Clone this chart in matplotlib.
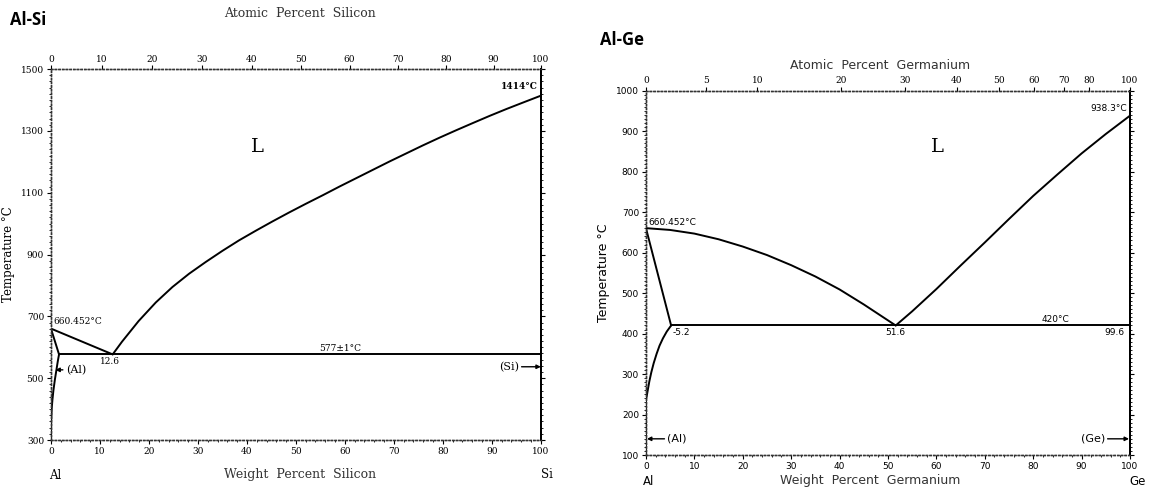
import matplotlib.pyplot as plt
import numpy as np
from matplotlib.ticker import MultipleLocator

# ---- Al-Si (weight percent Si, temperature in C) ----
alsi_liq_al_x = [0, 12.6]
alsi_liq_al_t = [660.452, 577]
alsi_liq_si_x = [12.6, 14.5, 17.9, 21.4, 24.8, 28.2, 31.6, 35.0, 38.4, 41.8, 45.2,
                 48.6, 52.0, 55.5, 58.9, 62.3, 65.7, 69.1, 72.5, 75.9, 79.3, 82.7,
                 86.2, 89.6, 93.0, 96.4, 100]
alsi_liq_si_t = [577, 618, 685, 745, 795, 838, 876, 912, 946, 977, 1007,
                 1036, 1064, 1092, 1120, 1147, 1174, 1201, 1227, 1253, 1278, 1302,
                 1326, 1349, 1371, 1392, 1414]
alsi_solidus_x = [0, 1.65]
alsi_solidus_t = [660.452, 577]
alsi_solvus_x = [1.65, 1.4, 1.1, 0.8, 0.5, 0.3, 0.15, 0.05, 0]
alsi_solvus_t = [577, 555, 525, 495, 460, 430, 400, 360, 300]
alsi_eut_x = [1.65, 100]
alsi_eut_t = [577, 577]
alsi_at_ticks = [0, 10, 20, 30, 40, 50, 60, 70, 80, 90, 100]
alsi_yticks = [300, 500, 700, 900, 1100, 1300, 1500]

# ---- Al-Ge (weight percent Ge, temperature in C) ----
alge_liq_al_x = [0, 5, 10, 15, 20, 25, 30, 35, 40, 45, 51.6]
alge_liq_al_t = [660.452, 656, 647, 633, 615, 594, 569, 541, 509, 472, 420]
alge_liq_ge_x = [51.6, 55, 60, 65, 70, 75, 80, 85, 90, 95, 100]
alge_liq_ge_t = [420, 455, 510, 568, 625, 683, 740, 793, 845, 893, 938.3]
alge_solidus_x = [0, 5.2]
alge_solidus_t = [660.452, 420]
alge_solvus_x = [5.2, 4.3, 3.5, 2.8, 2.2, 1.6, 1.1, 0.7, 0.4, 0.15, 0, 0]
alge_solvus_t = [420, 405, 388, 370, 350, 327, 304, 282, 262, 245, 236, 100]
alge_eut_x = [5.2, 100]
alge_eut_t = [420, 420]
alge_at_ticks = [0, 5, 10, 20, 30, 40, 50, 60, 70, 80, 100]
alge_yticks = [100, 200, 300, 400, 500, 600, 700, 800, 900, 1000]

M_AL, M_SI, M_GE = 26.982, 28.086, 72.63


def at_to_wt(a, m):
    a = np.asarray(a, dtype=float)
    return 100 * a * m / (a * m + (100 - a) * M_AL)


serif = 'DejaVu Serif'
lw = 1.4
spine_c = '#333333'

fig = plt.figure(figsize=(11.5, 4.9), dpi=100)


def style_axes(ax, ylim, yticks, minor, fam):
    ax.set_xlim(0, 100)
    ax.set_ylim(*ylim)
    ax.set_xticks(range(0, 101, 10))
    ax.set_yticks(yticks)
    ax.yaxis.set_minor_locator(MultipleLocator(minor))
    ax.xaxis.set_minor_locator(MultipleLocator(2))
    for s in ['top', 'bottom', 'left']:
        ax.spines[s].set_linestyle(':')
        ax.spines[s].set_linewidth(1.0)
        ax.spines[s].set_color(spine_c)
    ax.spines['right'].set_linewidth(1.4)
    ax.tick_params(axis='both', which='major', labelsize=6.5, length=3, width=0.8, pad=2)
    ax.tick_params(axis='both', which='minor', length=1.5, width=0.6)
    ax.tick_params(axis='y', which='both', right=True, direction='out')
    for lab in ax.get_xticklabels() + ax.get_yticklabels():
        lab.set_family(fam)


def add_top(ax, at_ticks, m):
    top = ax.twiny()
    top.set_xlim(0, 100)
    top.set_xticks(at_to_wt(at_ticks, m))
    top.set_xticklabels([str(v) for v in at_ticks], family=serif, fontsize=6.5)
    top.tick_params(axis='x', length=3, width=0.8, pad=1)
    for s in ['top', 'bottom', 'left']:
        top.spines[s].set_linestyle(':')
        top.spines[s].set_linewidth(1.0)
        top.spines[s].set_color(spine_c)
    top.spines['right'].set_linewidth(1.4)
    return top


arrow = dict(arrowstyle='-|>', color='k', lw=1, mutation_scale=6, shrinkA=0, shrinkB=0)

# ======== Al-Si panel ========
ax1 = fig.add_axes([0.0443, 0.102, 0.426, 0.757])
style_axes(ax1, (300, 1500), alsi_yticks, 20, serif)
for xs, ts in [(alsi_liq_al_x, alsi_liq_al_t), (alsi_liq_si_x, alsi_liq_si_t),
               (alsi_solidus_x, alsi_solidus_t), (alsi_solvus_x, alsi_solvus_t),
               (alsi_eut_x, alsi_eut_t)]:
    ax1.plot(xs, ts, color='k', lw=lw, solid_capstyle='round', solid_joinstyle='round')
add_top(ax1, alsi_at_ticks, M_SI)

ax1.text(42.2, 1247, 'L', family=serif, fontsize=14, ha='center', va='center')
ax1.text(0.4, 668, '660.452°C', family=serif, fontsize=6.5, ha='left', va='bottom')
ax1.text(12.0, 570, '12.6', family=serif, fontsize=6.5, ha='center', va='top')
ax1.text(59, 581, '577±1°C', family=serif, fontsize=6.5, ha='center', va='bottom')
ax1.text(99.3, 1428, '1414°C', family=serif, fontsize=6.5, ha='right', va='bottom',
         fontweight='bold')
ax1.annotate('(Al)', xy=(0.9, 527), xytext=(3.0, 527), family=serif, fontsize=8,
             va='center', ha='left', arrowprops=arrow)
ax1.annotate('(Si)', xy=(100, 537), xytext=(95.5, 537), family=serif, fontsize=8,
             va='center', ha='right', arrowprops=arrow)
ax1.set_ylabel('Temperature °C', family=serif, fontsize=8.5, labelpad=4)

fig.text(0.261, 0.973, 'Atomic  Percent  Silicon', family=serif, fontsize=9,
         ha='center', va='center', color='#333333')
fig.text(0.261, 0.032, 'Weight  Percent  Silicon', family=serif, fontsize=9,
         ha='center', va='center', color='#333333')
fig.text(0.048, 0.030, 'Al', family=serif, fontsize=8.5, ha='center', va='center')
fig.text(0.476, 0.032, 'Si', family=serif, fontsize=8.5, ha='center', va='center')
fig.text(0.009, 0.960, 'Al-Si', family='Open Sans', fontweight='bold', fontsize=12,
         ha='left', va='center')

# ======== Al-Ge panel ========
ax2 = fig.add_axes([0.5617, 0.0714, 0.4209, 0.7435])
style_axes(ax2, (100, 1000), alge_yticks, 10, 'DejaVu Sans')
for xs, ts in [(alge_liq_al_x, alge_liq_al_t), (alge_liq_ge_x, alge_liq_ge_t),
               (alge_solidus_x, alge_solidus_t), (alge_solvus_x, alge_solvus_t),
               (alge_eut_x, alge_eut_t)]:
    ax2.plot(xs, ts, color='k', lw=lw, solid_capstyle='round', solid_joinstyle='round')
add_top(ax2, alge_at_ticks, M_GE)

ax2.text(60.2, 862, 'L', family=serif, fontsize=14, ha='center', va='center')
ax2.text(0.4, 664, '660.452°C', family='DejaVu Sans', fontsize=6.5, ha='left',
         va='bottom')
ax2.text(5.4, 414, '-5.2', family='DejaVu Sans', fontsize=6.5, ha='left', va='top')
ax2.text(51.6, 414, '51.6', family='DejaVu Sans', fontsize=6.5, ha='center', va='top')
ax2.text(84.5, 423, '420°C', family='DejaVu Sans', fontsize=6.5, ha='center',
         va='bottom')
ax2.text(98.8, 414, '99.6', family='DejaVu Sans', fontsize=6.5, ha='right', va='top')
ax2.text(99.3, 946, '938.3°C', family='DejaVu Sans', fontsize=6.5, ha='right',
         va='bottom')
ax2.annotate('(Al)', xy=(0.2, 140), xytext=(4.4, 140), family='DejaVu Sans',
             fontsize=8, va='center', ha='left', arrowprops=arrow)
ax2.annotate('(Ge)', xy=(99.8, 140), xytext=(94.8, 140), family='DejaVu Sans',
             fontsize=8, va='center', ha='right', arrowprops=arrow)
ax2.set_ylabel('Temperature °C', family='DejaVu Sans', fontsize=9, labelpad=4)

fig.text(0.765, 0.867, 'Atomic  Percent  Germanium', family='DejaVu Sans',
         fontsize=9, ha='center', va='center', color='#333333')
fig.text(0.757, 0.020, 'Weight  Percent  Germanium', family='DejaVu Sans',
         fontsize=9, ha='center', va='center', color='#333333')
fig.text(0.564, 0.018, 'Al', family='DejaVu Sans', fontsize=8.5, ha='center',
         va='center')
fig.text(0.989, 0.018, 'Ge', family='DejaVu Sans', fontsize=8.5, ha='center',
         va='center')
fig.text(0.522, 0.918, 'Al-Ge', family='Open Sans', fontweight='bold', fontsize=12,
         ha='left', va='center')

fig.savefig('out.png', dpi=100)
